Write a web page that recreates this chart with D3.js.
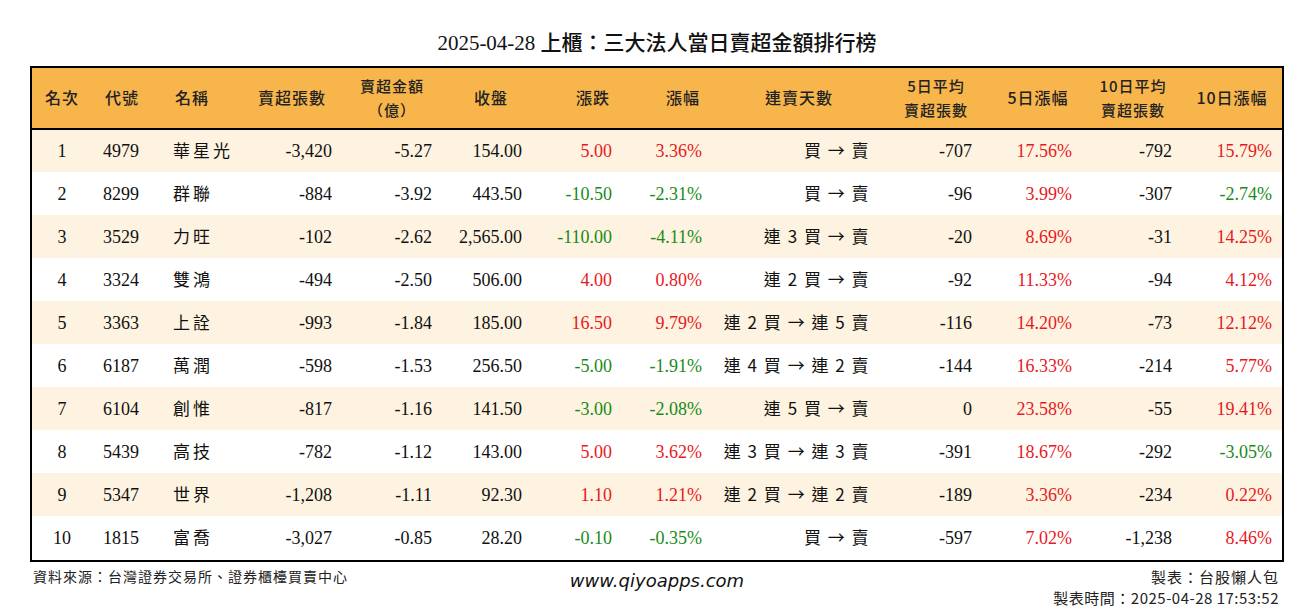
<!DOCTYPE html><html><head><meta charset="utf-8"><script src="https://cdn.jsdelivr.net/npm/d3@7"></script>
<style>body{margin:0;background:#fff}</style></head><body><svg id="c" width="1314" height="612"></svg><script>
const ranks=[1,2,3,4,5,6,7,8,9,10];
const codes=["4979","8299","3529","3324","3363","6187","6104","5439","5347","1815"];
const names=["華星光","群聯","力旺","雙鴻","上詮","萬潤","創惟","高技","世界","富喬"];
const sellQty=[-3420,-884,-102,-494,-993,-598,-817,-782,-1208,-3027];
const sellAmt=[-5.27,-3.92,-2.62,-2.50,-1.84,-1.53,-1.16,-1.12,-1.11,-0.85];
const close=[154.00,443.50,2565.00,506.00,185.00,256.50,141.50,143.00,92.30,28.20];
const change=[5.00,-10.50,-110.00,4.00,16.50,-5.00,-3.00,5.00,1.10,-0.10];
const pct=[3.36,-2.31,-4.11,0.80,9.79,-1.91,-2.08,3.62,1.21,-0.35];
const streak=["買 → 賣","買 → 賣","連 3 買 → 賣","連 2 買 → 賣","連 2 買 → 連 5 賣","連 4 買 → 連 2 賣","連 5 買 → 賣","連 3 買 → 連 3 賣","連 2 買 → 連 2 賣","買 → 賣"];
const avg5=[-707,-96,-20,-92,-116,-144,0,-391,-189,-597];
const pct5=[17.56,3.99,8.69,11.33,14.20,16.33,23.58,18.67,3.36,7.02];
const avg10=[-792,-307,-31,-94,-73,-214,-55,-292,-234,-1238];
const pct10=[15.79,-2.74,14.25,4.12,12.12,5.77,19.41,-3.05,0.22,8.46];
const headers=[["名次"],["代號"],["名稱"],["賣超張數"],["賣超金額","（億）"],["收盤"],["漲跌"],["漲幅"],["連賣天數"],["5日平均","賣超張數"],["5日漲幅"],["10日平均","賣超張數"],["10日漲幅"]];

const svg=d3.select("#c");
const CJK="'Noto Sans CJK TC','Liberation Serif',serif", NUM="'Liberation Serif','Noto Sans CJK TC',serif";
const L=31,R=1283,T=67,HB=129,B=559;
const y=d3.scaleBand().domain(d3.range(10)).range([HB,B]);
const loc=d3.formatLocale({decimal:".",thousands:",",grouping:[3],currency:["",""],minus:"-"});
const f0=loc.format(",.0f"),f2=loc.format(",.2f");
const col=v=>v>0?"#e8191e":v<0?"#1a8a1a":"#111";
const cols=[
 {x:62,a:"middle",v:i=>ranks[i]},
 {x:103,a:"start",v:i=>codes[i]},
 {x:173,a:"start",v:i=>names[i],cjk:1,ls:3},
 {x:332,a:"end",v:i=>f0(sellQty[i])},
 {x:432,a:"end",v:i=>f2(sellAmt[i])},
 {x:522,a:"end",v:i=>f2(close[i])},
 {x:612,a:"end",v:i=>f2(change[i]),c:i=>col(change[i])},
 {x:702,a:"end",v:i=>f2(pct[i])+"%",c:i=>col(pct[i])},
 {x:870,a:"end",v:i=>streak[i],cjk:1,ls:1.5},
 {x:972,a:"end",v:i=>f0(avg5[i])},
 {x:1072,a:"end",v:i=>f2(pct5[i])+"%",c:i=>col(pct5[i])},
 {x:1172,a:"end",v:i=>f0(avg10[i])},
 {x:1272,a:"end",v:i=>f2(pct10[i])+"%",c:i=>col(pct10[i])}
];
const hx=[62,122,192,292,392,491,593,683,799,936,1038,1133,1232];
svg.append("text").attr("x",657).attr("y",50).attr("text-anchor","middle").attr("font-family",NUM).attr("font-size",21).attr("font-weight",500).attr("fill","#111").text("2025-04-28 上櫃：三大法人當日賣超金額排行榜");
svg.append("rect").attr("x",L).attr("y",T).attr("width",R-L).attr("height",HB-T).attr("fill","#F7B54C");
svg.selectAll("rect.r").data(d3.range(10)).join("rect").attr("x",L).attr("y",i=>y(i)).attr("width",R-L).attr("height",y.bandwidth()).attr("fill",i=>i%2==0?"#FDF3E0":"#fff");
headers.forEach((h,j)=>{
 if(h.length==1){
  svg.append("text").attr("x",hx[j]).attr("y",104).attr("text-anchor","middle").attr("font-family",CJK).attr("font-size",16).attr("font-weight",500).attr("fill","#222").attr("letter-spacing",1).text(h[0]);
 } else {
  h.forEach((s,k)=>svg.append("text").attr("x",hx[j]).attr("y",k?116:92).attr("text-anchor","middle").attr("font-family",CJK).attr("font-size",15).attr("font-weight",500).attr("fill","#222").attr("letter-spacing",1).text(s));
 }
});
d3.range(10).forEach(i=>{
 const cy=y(i)+y.bandwidth()/2+6;
 cols.forEach(c=>{
  svg.append("text").attr("x",c.x).attr("y",cy).attr("text-anchor",c.a).attr("font-family",c.cjk?CJK:NUM).attr("font-size",c.cjk?17:18).attr("letter-spacing",c.ls||0).attr("fill",c.c?c.c(i):"#111").text(c.v(i));
 });
});
svg.append("line").attr("x1",L).attr("x2",R).attr("y1",HB).attr("y2",HB).attr("stroke","#000").attr("stroke-width",2);
svg.append("rect").attr("x",L).attr("y",T).attr("width",R-L).attr("height",B-T+2).attr("fill","none").attr("stroke","#000").attr("stroke-width",2);
svg.append("text").attr("x",33).attr("y",582).attr("font-family",CJK).attr("font-size",14).attr("letter-spacing",1).attr("fill","#222").text("資料來源：台灣證券交易所、證券櫃檯買賣中心");
svg.append("text").attr("x",657).attr("y",587).attr("text-anchor","middle").attr("font-family","'DejaVu Sans',sans-serif").attr("font-style","italic").attr("font-size",18).attr("fill","#111").text("www.qiyoapps.com");
svg.append("text").attr("x",1279).attr("y",583).attr("text-anchor","end").attr("font-family",CJK).attr("font-size",15).attr("letter-spacing",1).attr("fill","#222").text("製表：台股懶人包");
svg.append("text").attr("x",1279).attr("y",604).attr("text-anchor","end").attr("font-family",CJK).attr("font-size",15).attr("letter-spacing",0.5).attr("fill","#222").text("製表時間：2025-04-28 17:53:52");
</script></body></html>
